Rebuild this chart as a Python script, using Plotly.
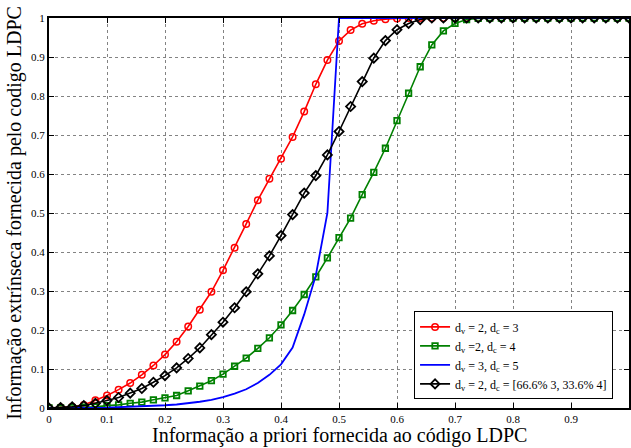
import plotly.graph_objects as go

x_vals = [0.00, 0.02, 0.04, 0.06, 0.08, 0.10, 0.12, 0.14, 0.16, 0.18,
          0.20, 0.22, 0.24, 0.26, 0.28, 0.30, 0.32, 0.34, 0.36, 0.38,
          0.40, 0.42, 0.44, 0.46, 0.48, 0.50, 0.52, 0.54, 0.56, 0.58,
          0.60, 0.62, 0.64, 0.66, 0.68, 0.70, 0.72, 0.74, 0.76, 0.78,
          0.80, 0.82, 0.84, 0.86, 0.88, 0.90, 0.92, 0.94, 0.96, 0.98, 1.00]

red_dv2_dc3 = [0, 0.001, 0.003, 0.008, 0.020, 0.032, 0.047, 0.064, 0.085, 0.109,
               0.137, 0.170, 0.209, 0.252, 0.298, 0.353, 0.411, 0.472, 0.533, 0.588,
               0.639, 0.695, 0.760, 0.830, 0.892, 0.941, 0.969, 0.985, 0.993, 0.997,
               0.999, 1, 1, 1, 1, 1, 1, 1, 1, 1,
               1, 1, 1, 1, 1, 1, 1, 1, 1, 1, 1]

green_dv2_dc4 = [0, 0, 0.001, 0.002, 0.003, 0.006, 0.008, 0.012, 0.015, 0.021,
                 0.026, 0.032, 0.044, 0.056, 0.070, 0.087, 0.107, 0.128, 0.153, 0.180,
                 0.213, 0.250, 0.291, 0.336, 0.385, 0.437, 0.487, 0.547, 0.604, 0.666,
                 0.737, 0.807, 0.875, 0.931, 0.967, 0.986, 0.996, 0.999, 1, 1,
                 1, 1, 1, 1, 1, 1, 1, 1, 1, 1, 1]

blue_dv3_dc5 = [0, 0, 0, 0, 0.001, 0.001, 0.002, 0.003, 0.004, 0.005,
                0.007, 0.009, 0.012, 0.016, 0.021, 0.028, 0.037, 0.048, 0.064, 0.085,
                0.112, 0.155, 0.240, 0.340, 0.500, 1, 1, 1, 1, 1,
                1, 1, 1, 1, 1, 1, 1, 1, 1, 1,
                1, 1, 1, 1, 1, 1, 1, 1, 1, 1, 1]

black_mixed = [0, 0.001, 0.003, 0.006, 0.012, 0.019, 0.027, 0.038, 0.050, 0.066,
               0.083, 0.103, 0.127, 0.154, 0.188, 0.220, 0.257, 0.298, 0.344, 0.390,
               0.442, 0.496, 0.551, 0.596, 0.649, 0.709, 0.773, 0.837, 0.897, 0.942,
               0.970, 0.986, 0.996, 1, 1, 1, 1, 1, 1, 1,
               1, 1, 1, 1, 1, 1, 1, 1, 1, 1, 1]

legend_names = [
    "d<sub>v</sub> = 2, d<sub>c</sub> = 3",
    "d<sub>v</sub> =2, d<sub>c</sub> = 4",
    "d<sub>v</sub> = 3, d<sub>c</sub> = 5",
    "d<sub>v</sub> = 2, d<sub>c</sub> = [66.6% 3, 33.6% 4]",
]

x_title = "Informação a priori fornecida ao código LDPC"
y_title = "Informação extrínseca fornecida pelo codigo LDPC"

tick_vals = [0, 0.1, 0.2, 0.3, 0.4, 0.5, 0.6, 0.7, 0.8, 0.9, 1]
tick_text = ["0", "0.1", "0.2", "0.3", "0.4", "0.5", "0.6", "0.7", "0.8", "0.9", "1"]

FONT = "Liberation Serif, Times New Roman, serif"

fig = go.Figure()
fig.add_trace(go.Scatter(x=x_vals, y=red_dv2_dc3, name=legend_names[0], mode="lines+markers",
                         line=dict(color="#ff0000", width=1.6),
                         marker=dict(symbol="circle-open", size=6.5, color="#ff0000",
                                     line=dict(width=1.5, color="#ff0000"))))
fig.add_trace(go.Scatter(x=x_vals, y=green_dv2_dc4, name=legend_names[1], mode="lines+markers",
                         line=dict(color="#008000", width=1.6),
                         marker=dict(symbol="square-open", size=5.5, color="#008000",
                                     line=dict(width=1.8, color="#008000"))))
fig.add_trace(go.Scatter(x=x_vals, y=blue_dv3_dc5, name=legend_names[2], mode="lines",
                         line=dict(color="#0000ff", width=1.8)))
fig.add_trace(go.Scatter(x=x_vals, y=black_mixed, name=legend_names[3], mode="lines+markers",
                         line=dict(color="#000000", width=1.6),
                         marker=dict(symbol="diamond-open", size=7, color="#000000",
                                     line=dict(width=1.8, color="#000000"))))

axis_common = dict(
    range=[0, 1], tickvals=tick_vals, ticktext=tick_text,
    showgrid=True, gridcolor="rgba(90,90,90,0.75)", gridwidth=1, griddash="dot",
    showline=True, linecolor="black", linewidth=2, mirror="allticks",
    ticks="inside", ticklen=5, tickcolor="black", tickwidth=1,
    zeroline=False, tickfont=dict(family=FONT, size=11, color="black"),
)

fig.update_xaxes(**axis_common)
fig.update_yaxes(**axis_common,
                 title=dict(text=y_title,
                            font=dict(family=FONT, size=20, color="black"), standoff=4))

fig.add_annotation(text=x_title, xref="paper", yref="paper", x=0.5, y=-0.071,
                   xanchor="center", yanchor="middle", showarrow=False,
                   font=dict(family=FONT, size=20, color="black"))

fig.update_layout(
    width=631, height=448,
    margin=dict(l=49, r=0, t=18, b=40),
    paper_bgcolor="white", plot_bgcolor="white",
    font=dict(family=FONT, color="black"),
    showlegend=True,
    legend=dict(x=0.9725, y=0.022, xanchor="right", yanchor="bottom",
                bgcolor="white", bordercolor="black", borderwidth=1,
                font=dict(family=FONT, size=12, color="black"),
                tracegroupgap=0, itemwidth=30),
)

fig.write_html("out.html")
